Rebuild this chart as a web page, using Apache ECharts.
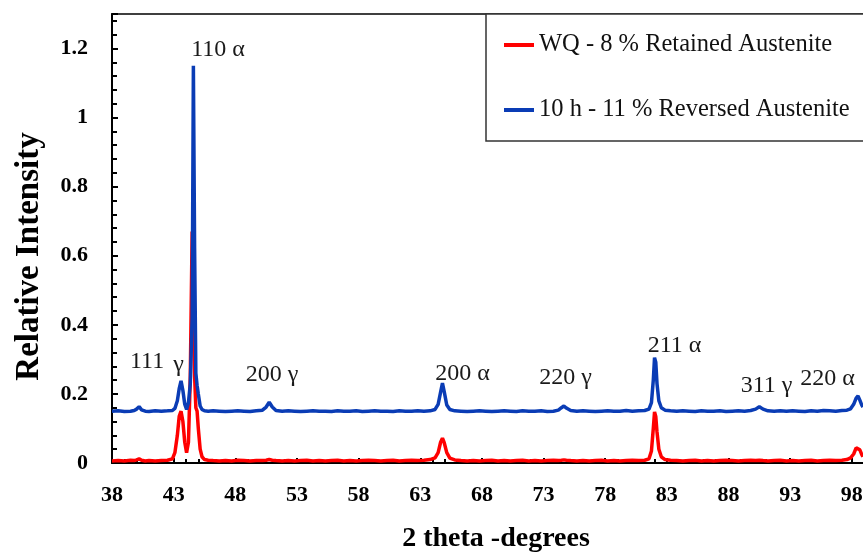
<!DOCTYPE html>
<html>
<head>
<meta charset="utf-8">
<script src="https://cdn.jsdelivr.net/npm/echarts@6/dist/echarts.min.js"></script>
<style>
html,body{margin:0;padding:0;background:#fff;}
#chart{width:863px;height:552px;}
</style>
</head>
<body>
<div id="chart"></div>
<script>
const twoTheta = [
38.0, 38.5, 39.0, 39.5, 39.8, 40.0, 40.2, 40.4, 40.7, 41.0,
41.5, 42.0, 42.5, 42.9, 43.1, 43.3, 43.45, 43.6, 43.75, 43.9,
44.05, 44.2, 44.35, 44.5, 44.6, 44.7, 44.8, 44.9, 45.0, 45.15,
45.3, 45.5, 45.8, 46.2, 46.7, 47.2, 47.7, 48.2, 48.7, 49.2,
49.7, 50.2, 50.5, 50.75, 51.0, 51.3, 51.8, 52.3, 52.8, 53.3,
53.8, 54.3, 54.8, 55.3, 55.8, 56.3, 56.8, 57.3, 57.8, 58.3,
58.8, 59.3, 59.8, 60.3, 60.8, 61.3, 61.8, 62.3, 62.8, 63.3,
63.8, 64.2, 64.45, 64.65, 64.8, 64.95, 65.15, 65.4, 65.8, 66.3,
66.8, 67.3, 67.8, 68.3, 68.8, 69.3, 69.8, 70.3, 70.8, 71.3,
71.8, 72.3, 72.8, 73.3, 73.8, 74.2, 74.45, 74.65, 74.85, 75.2,
75.7, 76.2, 76.7, 77.2, 77.7, 78.2, 78.7, 79.2, 79.7, 80.2,
80.7, 81.2, 81.55, 81.75, 81.9, 82.0, 82.1, 82.2, 82.35, 82.55,
82.85, 83.3, 83.8, 84.3, 84.8, 85.3, 85.8, 86.3, 86.8, 87.3,
87.8, 88.3, 88.8, 89.3, 89.8, 90.2, 90.5, 90.8, 91.2, 91.7,
92.2, 92.7, 93.2, 93.7, 94.2, 94.7, 95.2, 95.7, 96.2, 96.7,
97.2, 97.6, 97.9, 98.15, 98.35, 98.5, 98.65, 98.8, 98.9
];
const wqIntensity = [
0.006, 0.007, 0.006, 0.008, 0.007, 0.009, 0.012, 0.008, 0.006, 0.007,
0.006, 0.007, 0.008, 0.012, 0.030, 0.080, 0.135, 0.150, 0.120, 0.060,
0.030, 0.060, 0.250, 0.670, 0.560, 0.250, 0.160, 0.150, 0.100, 0.040,
0.018, 0.010, 0.008, 0.007, 0.006, 0.007, 0.006, 0.008, 0.007, 0.006,
0.007, 0.007, 0.008, 0.010, 0.008, 0.007, 0.006, 0.007, 0.006, 0.007,
0.008, 0.006, 0.007, 0.006, 0.007, 0.008, 0.006, 0.007, 0.006, 0.007,
0.008, 0.007, 0.006, 0.007, 0.008, 0.006, 0.007, 0.008, 0.007, 0.008,
0.010, 0.015, 0.030, 0.060, 0.072, 0.058, 0.030, 0.014, 0.009, 0.007,
0.006, 0.007, 0.006, 0.007, 0.008, 0.006, 0.007, 0.006, 0.007, 0.008,
0.006, 0.007, 0.006, 0.007, 0.008, 0.007, 0.008, 0.009, 0.008, 0.007,
0.006, 0.007, 0.006, 0.007, 0.008, 0.006, 0.007, 0.006, 0.007, 0.008,
0.007, 0.008, 0.012, 0.035, 0.100, 0.148, 0.135, 0.090, 0.040, 0.018,
0.010, 0.008, 0.007, 0.006, 0.007, 0.008, 0.006, 0.007, 0.006, 0.007,
0.008, 0.007, 0.006, 0.007, 0.008, 0.007, 0.008, 0.007, 0.006, 0.007,
0.008, 0.006, 0.007, 0.006, 0.007, 0.008, 0.006, 0.007, 0.008, 0.007,
0.008, 0.010, 0.015, 0.026, 0.044, 0.047, 0.038, 0.025, 0.018
];
const h10Intensity = [
0.150, 0.151, 0.149, 0.150, 0.152, 0.156, 0.163, 0.154, 0.150, 0.149,
0.151, 0.150, 0.151, 0.152, 0.158, 0.180, 0.215, 0.238, 0.210, 0.170,
0.155, 0.175, 0.230, 0.420, 1.150, 0.620, 0.260, 0.225, 0.200, 0.165,
0.155, 0.151, 0.150, 0.151, 0.150, 0.149, 0.150, 0.151, 0.150, 0.149,
0.151, 0.153, 0.162, 0.176, 0.162, 0.152, 0.150, 0.151, 0.150, 0.149,
0.150, 0.151, 0.150, 0.150, 0.149, 0.151, 0.150, 0.150, 0.151, 0.149,
0.150, 0.151, 0.150, 0.150, 0.149, 0.151, 0.150, 0.150, 0.151, 0.150,
0.151, 0.155, 0.170, 0.205, 0.231, 0.205, 0.168, 0.155, 0.151, 0.150,
0.149, 0.150, 0.151, 0.150, 0.149, 0.150, 0.151, 0.150, 0.149, 0.151,
0.150, 0.150, 0.151, 0.149, 0.150, 0.153, 0.160, 0.165, 0.159, 0.152,
0.150, 0.151, 0.150, 0.149, 0.150, 0.151, 0.150, 0.150, 0.152, 0.150,
0.151, 0.152, 0.156, 0.175, 0.240, 0.305, 0.292, 0.230, 0.180, 0.160,
0.153, 0.151, 0.150, 0.151, 0.150, 0.149, 0.151, 0.150, 0.150, 0.151,
0.149, 0.150, 0.151, 0.150, 0.152, 0.156, 0.163, 0.156, 0.151, 0.150,
0.151, 0.150, 0.151, 0.150, 0.149, 0.151, 0.150, 0.152, 0.151, 0.150,
0.152, 0.153, 0.157, 0.170, 0.188, 0.194, 0.182, 0.168, 0.162
];
const seriesNames = ['WQ - 8 % Retained Austenite', '10 h - 11 % Reversed Austenite'];
const peakLabelText = ['110 α', '111', 'γ', '200 γ', '200 α', '220 γ', '211 α', '311 γ', '220 α'];
const peakLabelX = [46.6, 40.84, 43.4, 50.98, 66.43, 74.78, 83.62, 91.08, 96.03];
const peakLabelY = [1.197, 0.292, 0.285, 0.257, 0.259, 0.246, 0.341, 0.223, 0.243];

const serif = 'Liberation Serif';
const chart = echarts.init(document.getElementById('chart'));
const isMultiple = (v, base, step) => Math.abs(((v - base) / step) - Math.round((v - base) / step)) < 1e-6;

chart.setOption({
  animation: false,
  backgroundColor: '#fff',
  grid: {
    left: 112, top: 14, right: -3, bottom: 89,
    outerBoundsMode: 'none',
    containLabel: false,
    show: true, borderColor: '#000', borderWidth: 1.5, backgroundColor: 'transparent'
  },
  graphic: [{
    type: 'rect', z: 10, silent: true,
    shape: { x: 486, y: 14, width: 420, height: 127 },
    style: { fill: '#fff', stroke: '#333', lineWidth: 1.5 }
  }],
  legend: {
    orient: 'vertical',
    left: 486, top: 14, z: 20,
    padding: [18, 10, 18, 18],
    itemGap: 39,
    itemWidth: 30, itemHeight: 4,
    icon: 'rect',
    textStyle: { fontFamily: serif, fontSize: 24.5, color: '#111', lineHeight: 26 },
    data: seriesNames
  },
  xAxis: {
    type: 'value',
    min: 38, max: 99.15, interval: 5,
    name: '2 theta -degrees',
    nameLocation: 'middle', nameGap: 62,
    nameTextStyle: { fontFamily: serif, fontSize: 28, fontWeight: 'bold', color: '#000', padding: [0, 0, 0, 14] },
    axisLine: { show: true, onZero: false, lineStyle: { color: '#000', width: 2 } },
    axisTick: { show: true, inside: true, length: 5, lineStyle: { color: '#000', width: 2 } },
    minorTick: { show: true, splitNumber: 5, length: 4, lineStyle: { color: '#000', width: 2 } },
    splitLine: { show: false },
    axisLabel: {
      margin: 21, fontFamily: serif, fontSize: 22, fontWeight: 'bold', color: '#000',
      formatter: v => isMultiple(v, 38, 5) ? String(Math.round(v)) : ''
    }
  },
  yAxis: {
    type: 'value',
    min: 0, max: 1.3, interval: 0.2,
    name: 'Relative Intensity',
    nameLocation: 'middle', nameGap: 66,
    nameTextStyle: { fontFamily: serif, fontSize: 33, fontWeight: 'bold', color: '#000', padding: [0, 36, 0, 0] },
    axisLine: { show: true, lineStyle: { color: '#000', width: 2 } },
    axisTick: { show: true, inside: true, length: 6, lineStyle: { color: '#000', width: 2 } },
    minorTick: { show: true, splitNumber: 5, length: 5, lineStyle: { color: '#000', width: 2 } },
    splitLine: { show: false },
    axisLabel: {
      margin: 24, fontFamily: serif, fontSize: 22, fontWeight: 'bold', color: '#000',
      formatter: v => isMultiple(v, 0, 0.2) ? String(Number(v.toFixed(1))) : ''
    }
  },
  series: [
    {
      name: seriesNames[0], type: 'line', showSymbol: false, symbol: 'none',
      data: twoTheta.map((x, i) => [x, wqIntensity[i]]),
      lineStyle: { color: '#ff0000', width: 3.5 }, itemStyle: { color: '#ff0000' }, z: 2
    },
    {
      name: seriesNames[1], type: 'line', showSymbol: false, symbol: 'none',
      data: twoTheta.map((x, i) => [x, h10Intensity[i]]),
      lineStyle: { color: '#0a3cb5', width: 3.5 }, itemStyle: { color: '#0a3cb5' }, z: 3
    },
    {
      name: 'peaks', type: 'scatter', symbolSize: 0, silent: true, z: 5,
      itemStyle: { opacity: 1, color: 'transparent' },
      data: peakLabelText.map((t, i) => ({ name: t, value: [peakLabelX[i], peakLabelY[i]] })),
      label: {
        show: true, position: 'inside', formatter: p => p.name, opacity: 1,
        fontFamily: serif, fontSize: 24, color: '#1a1a1a'
      }
    }
  ]
});
</script>
</body>
</html>
